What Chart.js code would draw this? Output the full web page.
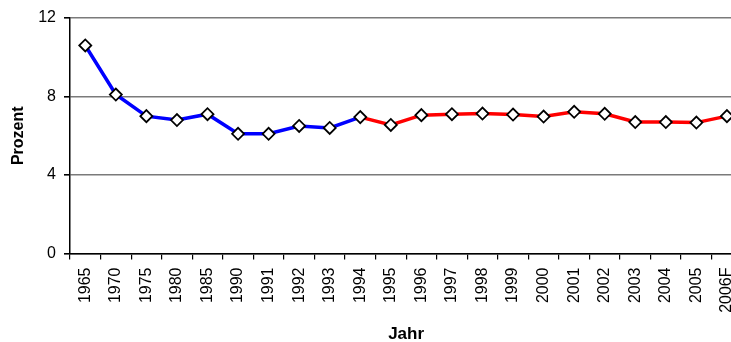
<!DOCTYPE html>
<html>
<head>
<meta charset="utf-8">
<script src="https://cdn.jsdelivr.net/npm/chart.js@4/dist/chart.umd.min.js"></script>
<style>
  html, body { margin: 0; padding: 0; background: #fff; overflow: hidden; }
  #wrap { width: 750px; height: 342px; }
</style>
</head>
<body>
<div id="wrap"><canvas id="chart" width="750" height="342"></canvas></div>
<script>
// Jahre (Kategorien)
const years = ['1965', '1970', '1975', '1980', '1985', '1990', '1991', '1992', '1993', '1994',
  '1995', '1996', '1997', '1998', '1999', '2000', '2001', '2002', '2003', '2004', '2005', '2006F'];
// Werte in Prozent
const values = [10.6, 8.1, 7.0, 6.8, 7.1, 6.1, 6.1, 6.5, 6.4, 6.95,
  6.55, 7.05, 7.1, 7.13, 7.08, 6.98, 7.22, 7.12, 6.7, 6.7, 6.67, 7.0];
// Achsenbeschriftung Y
const yTicks = [0, 4, 8, 12];
// Ab diesem Jahr wird die Linie rot gezeichnet
const splitYear = '1994';

const splitIndex = years.indexOf(splitYear);
const FONT = 'Arial, "Liberation Sans", sans-serif';

new Chart(document.getElementById('chart'), {
  type: 'line',
  data: {
    labels: years,
    datasets: [{
      data: values,
      borderWidth: 3.5,
      borderColor: '#0000ff',
      tension: 0,
      segment: {
        borderColor: ctx => ctx.p0DataIndex >= splitIndex ? '#ff0000' : '#0000ff'
      },
      pointStyle: 'rectRot',
      pointRadius: 6,
      pointHoverRadius: 6,
      pointBackgroundColor: '#ffffff',
      pointBorderColor: '#000000',
      pointBorderWidth: 1.8
    }]
  },
  options: {
    responsive: false,
    animation: false,
    devicePixelRatio: 1,
    layout: { padding: { left: 0, right: 3, top: 18, bottom: 0 } },
    plugins: { legend: { display: false }, tooltip: { enabled: false } },
    scales: {
      x: {
        type: 'category',
        offset: true,
        afterFit: s => { s.height = 342 - 253.5; s.paddingLeft = 0; s.paddingRight = 0; },
        grid: { offset: true, drawOnChartArea: false, drawTicks: true, tickLength: 6, tickColor: '#000', lineWidth: 1.2 },
        border: { display: true, color: '#000', width: 1.5 },
        ticks: {
          autoSkip: false, maxRotation: 90, minRotation: 90, padding: 8,
          color: '#000', font: { family: FONT, size: 16 }
        },
        title: {
          display: true, text: 'Jahr', color: '#000',
          font: { family: FONT, size: 17, weight: 'bold', lineHeight: 1 },
          padding: { top: 0, bottom: -1 }
        }
      },
      y: {
        min: 0, max: 12,
        afterFit: s => { s.width = 70; },
        afterBuildTicks: s => { s.ticks = yTicks.map(v => ({ value: v })); },
        grid: { color: '#7a7a7a', lineWidth: 1.6, tickLength: 6, tickColor: '#000' },
        border: { display: true, color: '#000', width: 1.5 },
        ticks: { padding: 8, color: '#000', font: { family: FONT, size: 16 } },
        title: {
          display: true, text: 'Prozent', color: '#000',
          font: { family: FONT, size: 16, weight: 'bold', lineHeight: 1 },
          padding: { top: 11, bottom: 0 }
        }
      }
    }
  }
});
</script>
</body>
</html>
